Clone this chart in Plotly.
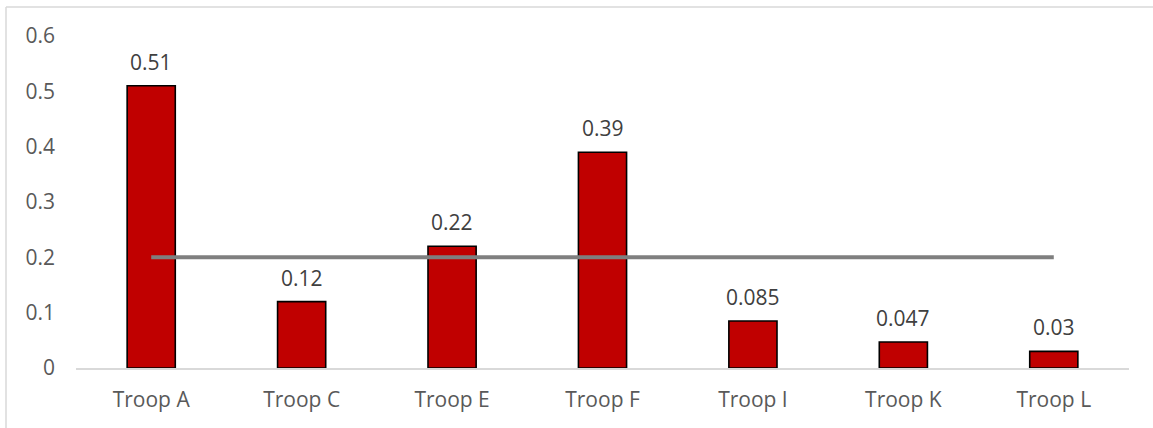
import plotly.graph_objects as go

categories = ["Troop A", "Troop C", "Troop E", "Troop F", "Troop I", "Troop K", "Troop L"]
values = [0.51, 0.12, 0.22, 0.39, 0.085, 0.047, 0.03]
value_labels = ["0.51", "0.12", "0.22", "0.39", "0.085", "0.047", "0.03"]
threshold = [0.2, 0.2, 0.2, 0.2, 0.2, 0.2, 0.2]
y_ticks = [0, 0.1, 0.2, 0.3, 0.4, 0.5, 0.6]
y_tick_labels = ["0", "0.1", "0.2", "0.3", "0.4", "0.5", "0.6"]

W, H = 1153, 428
ML, MR, MT, MB = 76, 24, 36, 60
pw = W - ML - MR
ph = H - MT - MB

FONT = "Open Sans"
FS = 21

fig = go.Figure()
fig.add_trace(go.Bar(
    x=categories, y=values,
    marker=dict(color="#C00000", line=dict(color="#000000", width=1.6)),
    showlegend=False, hoverinfo="x+y",
))
fig.add_trace(go.Scatter(
    x=categories, y=threshold, mode="lines",
    line=dict(color="#7F7F7F", width=4),
    showlegend=False,
))

for c, v, t in zip(categories, values, value_labels):
    fig.add_annotation(x=c, y=v, text=t, showarrow=False, yshift=24,
                       yanchor="middle", xanchor="center",
                       font=dict(family=FONT, size=FS, color="#404040"))

# chart border (light gray)
fx0 = (6 - ML) / pw
fy1 = 1 + (MT - 7) / ph
fig.add_shape(type="line", xref="paper", yref="paper",
              x0=fx0, x1=(W + 10 - ML) / pw, y0=fy1, y1=fy1,
              line=dict(color="#D9D9D9", width=1.5))
fig.add_shape(type="line", xref="paper", yref="paper",
              x0=fx0, x1=fx0, y0=fy1, y1=-(MB + 10) / ph,
              line=dict(color="#D9D9D9", width=1.5))

fig.update_layout(
    width=W, height=H,
    margin=dict(l=ML, r=MR, t=MT, b=MB),
    paper_bgcolor="white", plot_bgcolor="white",
    bargap=0.68,
    font=dict(family=FONT, size=FS, color="#595959"),
    xaxis=dict(showgrid=False, showline=True, linecolor="#D9D9D9", linewidth=1.5,
               ticks="", ticklabelstandoff=12,
               tickfont=dict(family=FONT, size=FS, color="#595959"), fixedrange=True),
    yaxis=dict(range=[0, 0.6], showgrid=False, zeroline=False, showline=False,
               tickvals=y_ticks, ticktext=y_tick_labels, ticks="",
               ticklabelstandoff=20,
               tickfont=dict(family=FONT, size=FS, color="#595959"), fixedrange=True),
)

fig.write_html("out.html", config={"displayModeBar": False},
               post_script="document.body.style.margin='0';document.body.style.overflow='hidden';")
